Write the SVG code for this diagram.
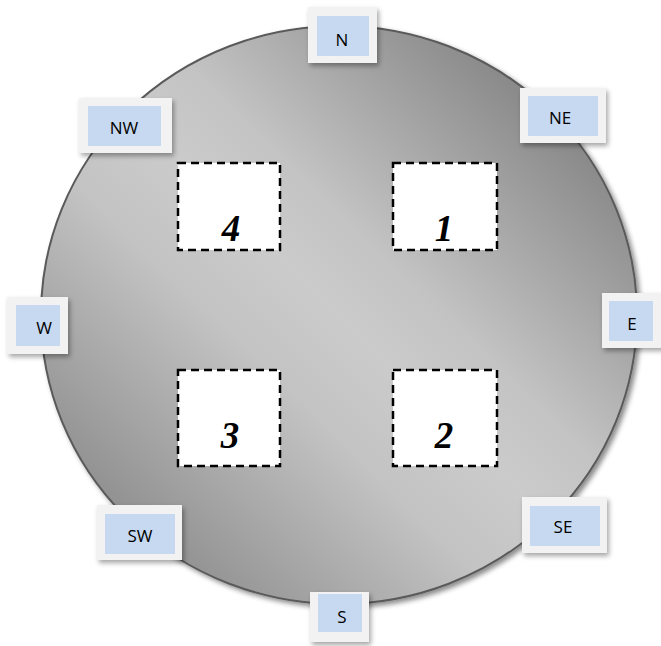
<svg xmlns="http://www.w3.org/2000/svg" width="661" height="646" viewBox="0 0 661 646">
  <defs>
    <linearGradient id="disc" x1="0.95" y1="0.05" x2="0.05" y2="0.95">
      <stop offset="0" stop-color="#737373"/>
      <stop offset="0.4" stop-color="#c3c3c3"/>
      <stop offset="0.5" stop-color="#cbcbcb"/>
      <stop offset="0.62" stop-color="#c3c3c3"/>
      <stop offset="1" stop-color="#7e7e7e"/>
    </linearGradient>
    <filter id="shadow" x="-10%" y="-10%" width="130%" height="130%">
      <feDropShadow dx="3" dy="3" stdDeviation="2.5" flood-color="#000" flood-opacity="0.45"/>
    </filter>
    <filter id="lshadow" x="-20%" y="-20%" width="150%" height="150%">
      <feDropShadow dx="2" dy="3" stdDeviation="2.5" flood-color="#000" flood-opacity="0.35"/>
    </filter>
  </defs>
  <style>
    .outer { fill: #f2f2f2; filter: url(#lshadow); }
    .inner { fill: #c6d9f1; }
    .lbl { font-family: "Open Sans", "Liberation Sans", sans-serif; font-size: 17px; fill: #000; text-anchor: middle; dominant-baseline: central; }
    .zone { fill: #ffffff; stroke: #000; stroke-width: 2.5; stroke-dasharray: 8 5; }
    .num { font-family: "Liberation Serif", "DejaVu Serif", serif; font-size: 37px; font-weight: bold; font-style: italic; fill: #000; text-anchor: middle; }
  </style>

  <g id="wafer">
    <ellipse cx="339" cy="315" rx="298" ry="289" fill="url(#disc)" stroke="#5a5a5a" stroke-width="2" filter="url(#shadow)"/>
  </g>

  <g id="zone4"><rect class="zone" x="178" y="163" width="102" height="87"/><text class="num" x="231" y="241">4</text></g>
  <g id="zone1"><rect class="zone" x="393" y="163" width="104" height="87"/><text class="num" x="444" y="241">1</text></g>
  <g id="zone3"><rect class="zone" x="178" y="370" width="102" height="96"/><text class="num" x="230" y="448">3</text></g>
  <g id="zone2"><rect class="zone" x="393" y="370" width="104" height="96"/><text class="num" x="444" y="448">2</text></g>

  <g id="N"><rect class="outer" x="308" y="7" width="69" height="56"/><rect class="inner" x="317" y="16" width="52" height="40"/><text class="lbl" x="342" y="39">N</text></g>
  <g id="NW"><rect class="outer" x="79" y="98" width="93" height="55"/><rect class="inner" x="88" y="106" width="73" height="40"/><text class="lbl" x="124" y="127">NW</text></g>
  <g id="NE"><rect class="outer" x="520" y="88" width="86" height="55"/><rect class="inner" x="528" y="96" width="70" height="40"/><text class="lbl" x="560" y="117">NE</text></g>
  <g id="W"><rect class="outer" x="7" y="297" width="61" height="57"/><rect class="inner" x="16" y="305" width="44" height="41"/><text class="lbl" x="44" y="327">W</text></g>
  <g id="E"><rect class="outer" x="602" y="293" width="64" height="55"/><rect class="inner" x="609" y="301" width="44" height="40"/><text class="lbl" x="632" y="323">E</text></g>
  <g id="SW"><rect class="outer" x="97" y="505" width="85" height="55"/><rect class="inner" x="105" y="514" width="70" height="40"/><text class="lbl" x="140" y="535">SW</text></g>
  <g id="SE"><rect class="outer" x="522" y="497" width="85" height="56"/><rect class="inner" x="530" y="506" width="70" height="40"/><text class="lbl" x="563" y="526">SE</text></g>
  <g id="S"><rect class="outer" x="310" y="592" width="59" height="50"/><rect class="inner" x="318" y="594" width="44" height="38"/><text class="lbl" x="342" y="616">S</text></g>

  <g id="connectors"></g>
</svg>
